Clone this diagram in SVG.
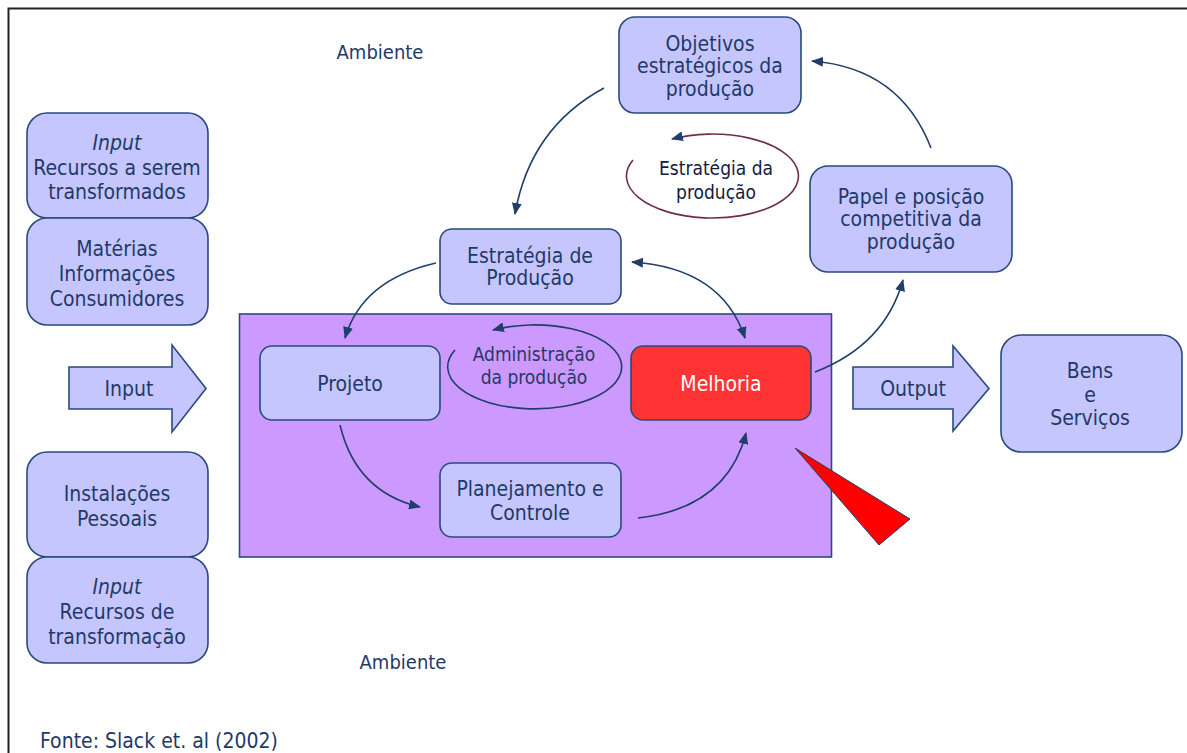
<svg xmlns="http://www.w3.org/2000/svg" width="1187" height="753" viewBox="0 0 1187 753">
<style>
.box{fill:#c6c6ff;stroke:#2b4a7c;stroke-width:1.6}
.t{font-family:"DejaVu Sans Condensed","DejaVu Sans",sans-serif;font-size:21px;fill:#1f3a68;text-anchor:middle}
.tl{text-anchor:start}
.it{font-style:italic}
.sm{font-size:19px}
.con{fill:none;stroke:#1f3f6a;stroke-width:1.6}
</style>
<defs>
<marker id="ah" markerWidth="12" markerHeight="10" refX="11" refY="5" orient="auto" markerUnits="userSpaceOnUse">
<path d="M0,0 L12,5 L0,10 Z" fill="#1f3f6a"/>
</marker>
<marker id="as" markerWidth="12" markerHeight="10" refX="1" refY="5" orient="auto" markerUnits="userSpaceOnUse">
<path d="M12,0 L0,5 L12,10 Z" fill="#1f3f6a"/>
</marker>
</defs>
<rect width="1187" height="753" fill="#ffffff"/>
<rect x="8.5" y="8.5" width="1200" height="780" fill="none" stroke="#222" stroke-width="2"/>

<text class="t" x="380" y="59" style="font-size:20px">Ambiente</text>
<text class="t" x="403" y="669" style="font-size:20px">Ambiente</text>
<text class="t tl" x="40" y="748">Fonte: Slack et. al (2002)</text>

<g id="area">
<rect x="239.5" y="314" width="592" height="243" fill="#cc99ff" stroke="#2b4a7c" stroke-width="1.6"/>
</g>

<g id="in1"><rect class="box" x="27" y="113" width="181" height="105" rx="20"/>
<text class="t it" x="117" y="150">Input</text><text class="t" x="117" y="175">Recursos a serem</text><text class="t" x="117" y="199">transformados</text></g>
<g id="in2"><rect class="box" x="27" y="218" width="181" height="107" rx="20"/>
<text class="t" x="117" y="256">Matérias</text><text class="t" x="117" y="281">Informações</text><text class="t" x="117" y="306">Consumidores</text></g>
<g id="in3"><rect class="box" x="27" y="452" width="181" height="105" rx="20"/>
<text class="t" x="117" y="501">Instalações</text><text class="t" x="117" y="526">Pessoais</text></g>
<g id="in4"><rect class="box" x="27" y="557" width="181" height="106" rx="20"/>
<text class="t it" x="117" y="594">Input</text><text class="t" x="117" y="619">Recursos de</text><text class="t" x="117" y="644">transformação</text></g>

<g id="inputArrow"><path class="box" d="M69,367 H172 V345 L206,388.5 L172,432 V409 H69 Z"/>
<text class="t" x="129" y="396">Input</text></g>
<g id="outputArrow"><path class="box" d="M853,367 H953 V346 L989,388.5 L953,431 V409 H853 Z"/>
<text class="t" x="913" y="396">Output</text></g>

<g id="bens"><rect class="box" x="1001" y="335" width="181" height="117" rx="20"/>
<text class="t" x="1090" y="378">Bens</text><text class="t" x="1090" y="402">e</text><text class="t" x="1090" y="425">Serviços</text></g>

<g id="objetivos"><rect class="box" x="619" y="17" width="182" height="96" rx="16"/>
<text class="t" x="710" y="51">Objetivos</text><text class="t" x="710" y="73">estratégicos da</text><text class="t" x="710" y="96">produção</text></g>
<g id="papel"><rect class="box" x="810" y="166" width="202" height="106" rx="18"/>
<text class="t" x="911" y="204">Papel e posição</text><text class="t" x="911" y="226">competitiva da</text><text class="t" x="911" y="249">produção</text></g>
<g id="estrategia"><rect class="box" x="440" y="229" width="181" height="75" rx="12"/>
<text class="t" x="530" y="263">Estratégia de</text><text class="t" x="530" y="285">Produção</text></g>

<g id="projeto"><rect class="box" x="260" y="346" width="180" height="74" rx="12"/>
<text class="t" x="350" y="391">Projeto</text></g>
<g id="melhoria"><rect x="631" y="346" width="180" height="74" rx="12" fill="#ff3333" stroke="#2b4a7c" stroke-width="1.6"/>
<text class="t" x="721" y="391" style="fill:#ffffff">Melhoria</text></g>
<g id="planejamento"><rect class="box" x="440" y="463" width="181" height="74" rx="12"/>
<text class="t" x="530" y="496">Planejamento e</text><text class="t" x="530" y="520">Controle</text></g>

<g id="pointer"><polygon points="795,448 910,519 879,545" fill="#ff0000" stroke="#1f3f6a" stroke-width="1"/></g>

<g id="connectors">
<path class="con" d="M604,88 Q530,128 515,214" marker-end="url(#ah)"/>
<path class="con" d="M931,148 Q900,68 812,61" marker-end="url(#ah)"/>
<path class="con" d="M815,372 Q885,345 903,280" marker-end="url(#ah)"/>
<path class="con" d="M436,263 Q362,280 345,338" marker-end="url(#ah)"/>
<path class="con" d="M632,262 Q722,268 745,338" marker-start="url(#as)" marker-end="url(#ah)"/>
<path class="con" d="M340,425 Q356,492 420,507" marker-end="url(#ah)"/>
<path class="con" d="M638,518 Q727,508 746,433" marker-end="url(#ah)"/>
<path class="con" d="M455,350 A87,42 0 1 0 493,330" marker-end="url(#ah)"/>
<path d="M633,160 A86,42 0 1 0 672,139" fill="none" stroke="#6e2c4f" stroke-width="1.6" marker-end="url(#ah)"/>
</g>
<g id="admLabel"><text class="t sm" x="534" y="361">Administração</text><text class="t sm" x="534" y="384">da produção</text></g>
<g id="estLabel"><text class="t sm" x="716" y="175" style="fill:#141a3c">Estratégia da</text><text class="t sm" x="716" y="199" style="fill:#141a3c">produção</text></g>
</svg>
